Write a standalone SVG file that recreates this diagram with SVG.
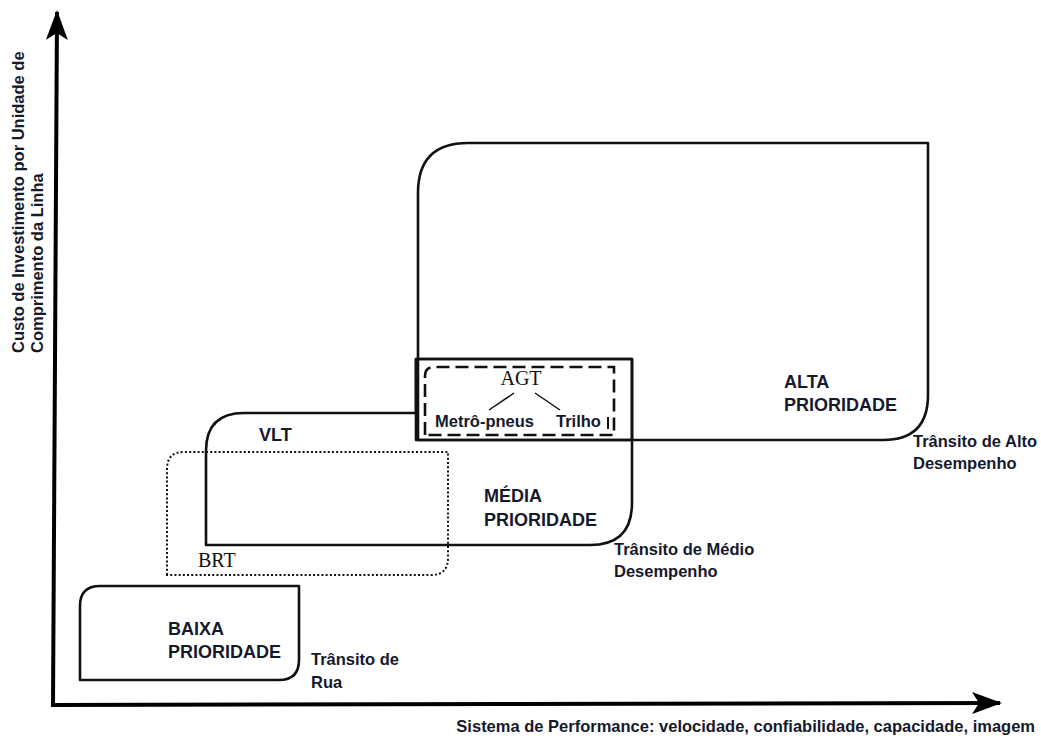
<svg xmlns="http://www.w3.org/2000/svg" width="1041" height="738" viewBox="0 0 1041 738">
<defs>
<style>
.shape{fill:none;stroke:#111;stroke-width:2.6;stroke-linejoin:round}
.axis{fill:none;stroke:#000;stroke-width:4}
.big{font-family:"Liberation Sans",Arial,sans-serif;font-weight:bold;font-size:18px;fill:#16192c}
.lbl{font-family:"Liberation Sans",Arial,sans-serif;font-weight:bold;font-size:16.5px;fill:#16192c}
.ser{font-family:"Liberation Serif","Times New Roman",serif;font-size:20px;fill:#111}
</style>
<marker id="ah" viewBox="0 0 30 22" refX="28" refY="11" markerWidth="30" markerHeight="22" markerUnits="userSpaceOnUse" orient="auto">
<path d="M0,0 L30,11 L0,22 L7,11 Z" fill="#000"/>
</marker>
</defs>
<rect width="1041" height="738" fill="#fff"/>
<g id="axes">
<path class="axis" d="M53,705 L57,12" marker-end="url(#ah)"/>
<path class="axis" d="M51,705 L1000,703" marker-end="url(#ah)"/>
<text class="lbl" transform="translate(24,353) rotate(-90)">Custo de Investimento por Unidade de</text>
<text class="lbl" transform="translate(43,353) rotate(-90)">Comprimento da Linha</text>
<text class="lbl" x="1035" y="732" text-anchor="end">Sistema de Performance: velocidade, confiabilidade, capacidade, imagem</text>
</g>
<g id="alta">
<path class="shape" d="M418,440 L418,193 Q418,143 468,143 L928,143 L928,395 Q928,440 883,440 Z"/>
<text class="big" x="784" y="388">ALTA</text>
<text class="big" x="784" y="411">PRIORIDADE</text>
<text class="lbl" x="913" y="447">Trânsito de Alto</text>
<text class="lbl" x="913" y="469">Desempenho</text>
</g>
<g id="media">
<path class="shape" d="M206,545 L206,451 Q206,413 244,413 L416,413 L416,359 L632,359 L632,503 Q632,545 590,545 Z"/>
<rect class="shape" x="416" y="359" width="216" height="81"/>
<text class="big" x="259" y="441">VLT</text>
<text class="big" x="484" y="502">MÉDIA</text>
<text class="big" x="484" y="526">PRIORIDADE</text>
<text class="lbl" x="614" y="555">Trânsito de Médio</text>
<text class="lbl" x="614" y="577">Desempenho</text>
</g>
<g id="agt">
<path d="M425,435 L425,376 Q425,367 434,367 L614,367 L614,435 Z" fill="none" stroke="#111" stroke-width="2.6" stroke-dasharray="13,6"/>
<text class="ser" x="521" y="385" text-anchor="middle">AGT</text>
<line x1="514" y1="393" x2="489" y2="410" stroke="#111" stroke-width="1.5"/>
<line x1="535" y1="393" x2="560" y2="410" stroke="#111" stroke-width="1.5"/>
<text class="lbl" x="435" y="427">Metrô-pneus</text>
<text class="lbl" x="556" y="427">Trilho</text>
<line x1="608" y1="417" x2="608" y2="429" stroke="#111" stroke-width="2"/>
</g>
<g id="brt">
<path d="M167,575 L167,469 Q167,452 184,452 L448,452 L448,558 Q448,575 431,575 Z" fill="none" stroke="#111" stroke-width="2" stroke-dasharray="2,2.2"/>
<text class="ser" x="198" y="567">BRT</text>
</g>
<g id="baixa">
<path class="shape" d="M80,680 L80,606 Q80,586 100,586 L299,586 L299,660 Q299,680 279,680 Z"/>
<text class="big" x="168" y="635">BAIXA</text>
<text class="big" x="168" y="658">PRIORIDADE</text>
<text class="lbl" x="311" y="665">Trânsito de</text>
<text class="lbl" x="311" y="688">Rua</text>
</g>
</svg>
